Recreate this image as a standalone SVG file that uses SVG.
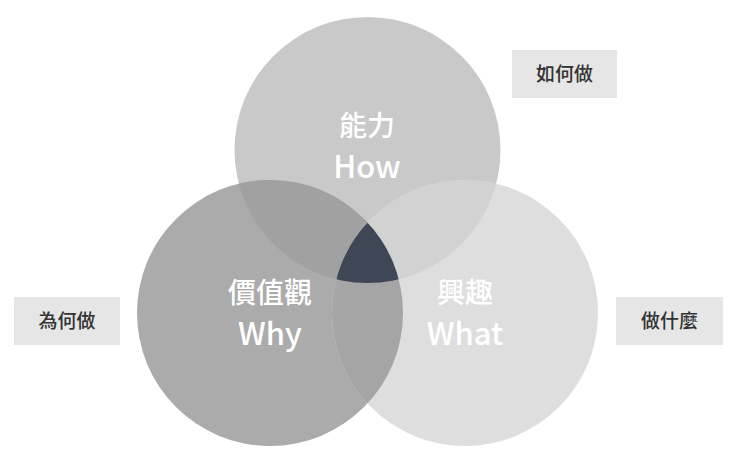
<svg xmlns="http://www.w3.org/2000/svg" width="735" height="452" viewBox="0 0 735 452">
<style>
.lbl{font-family:"Noto Sans CJK TC","Noto Sans",sans-serif;fill:#fff;font-weight:500;text-anchor:middle}
.box{fill:#e6e6e6}
.bt{font-family:"Noto Sans CJK TC",sans-serif;font-size:19px;font-weight:500;fill:#333;text-anchor:middle}
</style>
<defs>
<clipPath id="cT"><circle cx="367.5" cy="150" r="133"/></clipPath>
<clipPath id="cL"><circle cx="270" cy="313" r="133"/></clipPath>
<clipPath id="cR"><circle cx="465" cy="313" r="133"/></clipPath>
</defs>
<rect width="735" height="452" fill="#fff"/>
<g id="venn">
<circle cx="367.5" cy="150" r="133" fill="#c9c9c9"/>
<circle cx="270" cy="313" r="133" fill="#ababab"/>
<circle cx="465" cy="313" r="133" fill="#dedede"/>
<circle cx="270" cy="313" r="133" fill="#a1a1a1" clip-path="url(#cT)"/>
<circle cx="465" cy="313" r="133" fill="#d2d2d2" clip-path="url(#cT)"/>
<circle cx="465" cy="313" r="133" fill="#a5a5a5" clip-path="url(#cL)"/>
<g clip-path="url(#cT)"><circle cx="465" cy="313" r="133" fill="#3f4757" clip-path="url(#cL)"/></g>
</g>
<g id="how"><text class="lbl" x="367" y="136" font-size="28">能力</text><text class="lbl" x="367" y="178" font-size="31">How</text></g>
<g id="why"><text class="lbl" x="270" y="303" font-size="28">價值觀</text><text class="lbl" x="270" y="345" font-size="31">Why</text></g>
<g id="what"><text class="lbl" x="465" y="303" font-size="28">興趣</text><text class="lbl" x="465" y="345" font-size="31">What</text></g>
<g id="b1"><rect class="box" x="512" y="50" width="105" height="48"/><text class="bt" x="564.5" y="81">如何做</text></g>
<g id="b2"><rect class="box" x="14" y="297" width="106" height="48"/><text class="bt" x="67" y="328">為何做</text></g>
<g id="b3"><rect class="box" x="616" y="297" width="107" height="48"/><text class="bt" x="669.5" y="328">做什麼</text></g>
<g id="connectors"></g>
</svg>
